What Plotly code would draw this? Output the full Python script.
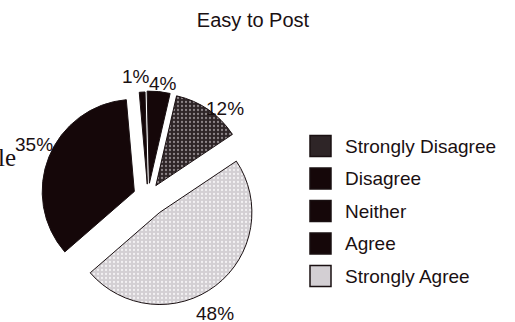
import plotly.graph_objects as go

# Survey responses for "Easy to Post" (percent of respondents)
categories = ["Strongly Disagree", "Disagree", "Neither", "Agree", "Strongly Agree"]
values = [12, 4, 1, 35, 48]
colors = ["#2e2527", "#150709", "#150709", "#150709", "#d3cfd3"]
pattern_shapes = [".", "", "", "", "."]
pattern_fg = ["#8d8588", "#150709", "#150709", "#150709", "#f3f1f3"]
pulls = [0.15, 0.15, 0.14, 0.16, 0.21]
# Where each percentage label sits (pixel centre)
label_pos = [(225, 109), (163, 83), (136, 76), (34, 144), (215, 313)]

W, H = 515, 322
cx, cy, box = 148, 197, 223
ink = "#1a1012"
font_family = "Liberation Sans, Arial"

fig = go.Figure(
    go.Pie(
        labels=categories,
        values=values,
        sort=False,
        direction="counterclockwise",
        rotation=13,
        pull=pulls,
        showlegend=False,
        automargin=False,
        marker=dict(
            colors=colors,
            line=dict(color=ink, width=1),
            pattern=dict(
                shape=pattern_shapes,
                fgcolor=pattern_fg,
                bgcolor=colors,
                solidity=0.25,
                size=4,
            ),
        ),
        textinfo="none",
        hoverinfo="label+percent",
        domain=dict(
            x=[(cx - box / 2) / W, (cx + box / 2) / W],
            y=[1 - (cy + box / 2) / H, 1 - (cy - box / 2) / H],
        ),
    )
)

shapes, annotations = [], []

# Percentage labels around the pie
for v, (lx, ly) in zip(values, label_pos):
    annotations.append(
        dict(
            text=f"{v}%",
            x=lx / W,
            y=1 - ly / H,
            xref="paper",
            yref="paper",
            xanchor="center",
            yanchor="middle",
            showarrow=False,
            font=dict(family=font_family, size=19, color=ink),
        )
    )

# Legend drawn as swatches plus labels on the right
leg_x0, leg_sw, leg_text_x = 310, 21, 343
leg_y0, leg_step = 146, 32.5
for i, name in enumerate(categories):
    yc = leg_y0 + i * leg_step
    shapes.append(
        dict(
            type="rect",
            xref="paper",
            yref="paper",
            x0=leg_x0 / W,
            x1=(leg_x0 + leg_sw) / W,
            y0=1 - (yc + leg_sw / 2) / H,
            y1=1 - (yc - leg_sw / 2) / H,
            fillcolor=colors[i],
            line=dict(color=ink, width=1.5),
        )
    )
    annotations.append(
        dict(
            text=name,
            x=leg_text_x / W,
            y=1 - yc / H,
            xref="paper",
            yref="paper",
            xanchor="left",
            yanchor="middle",
            showarrow=False,
            font=dict(family=font_family, size=19, color=ink),
        )
    )

annotations.append(
    dict(
        text="le",
        x=18 / W,
        y=1 - 158 / H,
        xref="paper",
        yref="paper",
        xanchor="right",
        yanchor="middle",
        showarrow=False,
        font=dict(family="Liberation Serif, Times New Roman", size=25, color=ink),
    )
)

fig.update_layout(
    width=W,
    height=H,
    margin=dict(l=0, r=0, t=0, b=0, autoexpand=False),
    paper_bgcolor="white",
    plot_bgcolor="white",
    font=dict(family=font_family, color=ink),
    title=dict(
        text="Easy to Post",
        x=253 / W,
        xanchor="center",
        y=1 - 20 / H,
        yanchor="middle",
        font=dict(size=20, family=font_family, color=ink),
    ),
    shapes=shapes,
    annotations=annotations,
)

fig.write_html("out.html")
